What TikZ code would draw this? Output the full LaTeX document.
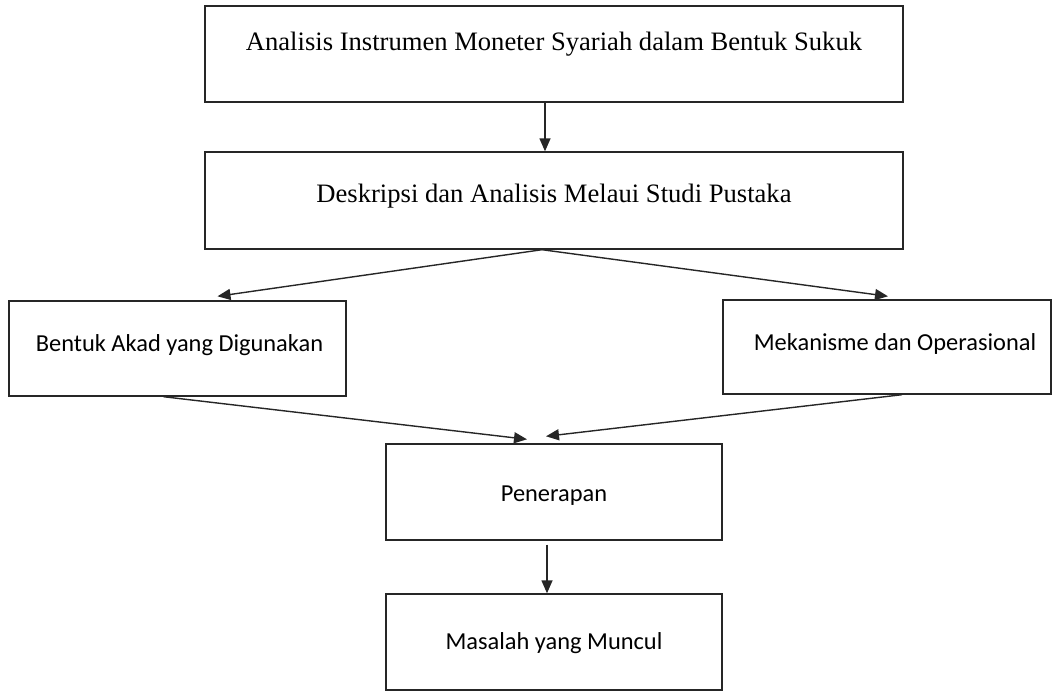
\documentclass[tikz,border=0pt]{standalone}
\usepackage{fontspec}
\setmainfont{Liberation Serif}
\newfontfamily\boxsans{Carlito}
\usetikzlibrary{arrows.meta,calc}
\begin{document}
\begin{tikzpicture}[x=1pt,y=-1pt,
  boxbase/.style={draw=black!85,line width=1.4pt,rectangle,inner sep=0pt,fill=white},
  serifbox/.style={boxbase,minimum width=698pt},
  sansbox/.style={boxbase},
  serifl/.style={font=\fontsize{26.6}{30}\selectfont},
  sansl/.style={font=\boxsans\fontsize{24.4}{28}\selectfont},
  conn/.style={draw=black!85,line width=1.4pt,-{Triangle[length=13pt,width=11pt]}}]
\useasboundingbox (0,0) rectangle (1053,691);
\node[serifbox,minimum height=96pt,label={[serifl,yshift=10pt]center:Analisis Instrumen Moneter Syariah dalam Bentuk Sukuk}] (b1) at (554,54) {};
\node[serifbox,minimum height=97pt,label={[serifl,yshift=4pt]center:Deskripsi dan Analisis Melaui Studi Pustaka}] (b2) at (554,200.5) {};
\node[sansbox,minimum width=337pt,minimum height=95pt,label={[sansl,yshift=3pt,xshift=2pt]center:Bentuk Akad yang Digunakan}] (b3) at (177.5,348.5) {};
\node[sansbox,minimum width=328pt,minimum height=94pt,label={[sansl,yshift=3pt,xshift=8pt]center:Mekanisme dan Operasional}] (b4) at (887,347) {};
\node[sansbox,minimum width=336pt,minimum height=96pt,label={[sansl,yshift=-4pt]center:Penerapan}] (b5) at (554,492) {};
\node[sansbox,minimum width=336pt,minimum height=96pt,label={[sansl,yshift=-1pt]center:Masalah yang Muncul}] (b6) at (554,642) {};
\draw[conn] ($(b1.south)+(-9,0)$) -- ($(b2.north)+(-9,0)$);
\draw[conn] ($(b2.south)+(-12,0)$) -- ($(b3.north)+(40,-4)$);
\draw[conn] ($(b2.south)+(-12,0)$) -- ($(b4.north)+(1,-3)$);
\draw[conn] ($(b3.south)+(-14,0)$) -- ($(b5.north)+(-27,-4)$);
\draw[conn] ($(b4.south)+(15,0)$) -- ($(b5.north)+(-8,-7)$);
\draw[conn] ($(b5.south)+(-7,4)$) -- ($(b6.north)+(-7,0)$);
\end{tikzpicture}
\end{document}
